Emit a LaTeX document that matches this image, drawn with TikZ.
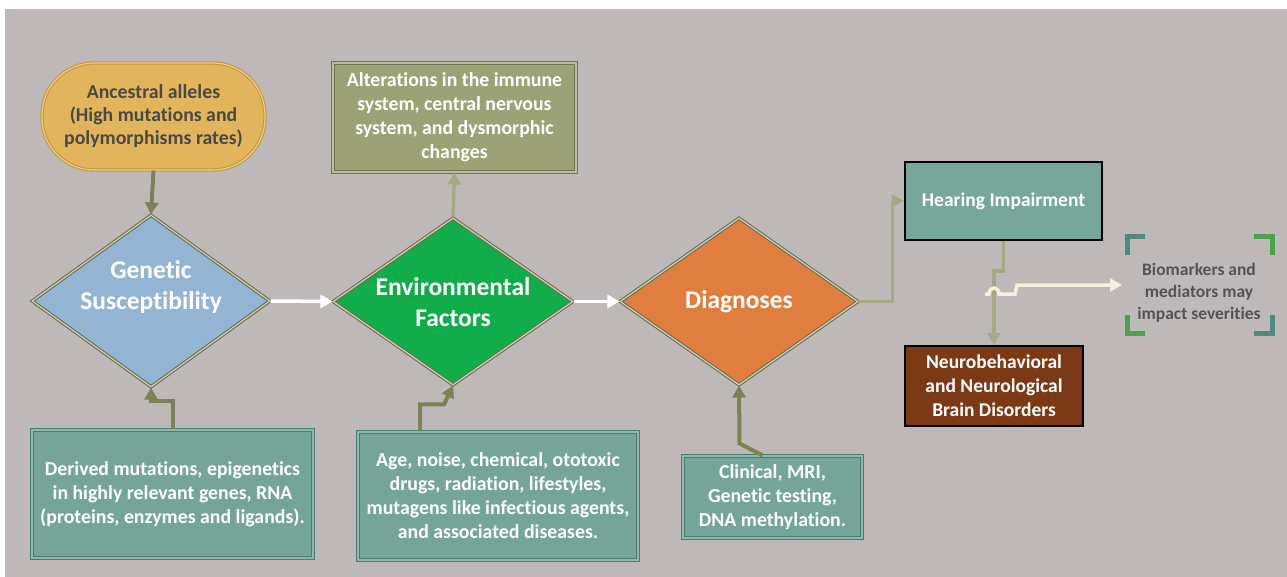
\documentclass[tikz,border=0pt]{standalone}
\usepackage{fontspec}
\setmainfont{Carlito}[Ligatures=NoCommon]
\usetikzlibrary{shapes.geometric,arrows.meta}

\definecolor{bgGrey}{HTML}{BEB9B8}
\definecolor{pillFill}{HTML}{E2B55C}
\definecolor{pillEdge}{HTML}{C39A3F}
\definecolor{pillText}{HTML}{4A4946}
\definecolor{geneFill}{HTML}{94B4D4}
\definecolor{envFill}{HTML}{12AD4B}
\definecolor{diagFill}{HTML}{E07E40}
\definecolor{diamondEdge}{HTML}{6A7250}
\definecolor{diamondLine}{HTML}{D2CCB8}
\definecolor{alterFill}{HTML}{9CA276}
\definecolor{alterEdge}{HTML}{6E7550}
\definecolor{tealFill}{HTML}{75A598}
\definecolor{tealEdge}{HTML}{4B7A6E}
\definecolor{tealLine}{HTML}{8DB8AB}
\definecolor{hearFill}{HTML}{77A79B}
\definecolor{neuroFill}{HTML}{7B3A15}
\definecolor{darkOlive}{HTML}{7C8156}
\definecolor{lightOlive}{HTML}{A4A983}
\definecolor{cream}{HTML}{F5EFDC}
\definecolor{bioText}{HTML}{555353}
\definecolor{cornerTeal}{HTML}{4F8A7F}
\definecolor{cornerGreen}{HTML}{4AA24A}

\begin{document}
\begin{tikzpicture}[x=1pt,y=-1pt,
    decision/.style={diamond, inner sep=0pt, draw=diamondEdge, double=diamondLine,
      line width=1.1pt, double distance=1.2pt},
    dectext/.style={text=white, align=center, inner sep=0pt,
      font=\bfseries\fontsize{25.5}{31}\selectfont},
    tealbox/.style={rectangle, inner sep=0pt, draw=tealEdge, double=tealLine,
      line width=1.1pt, double distance=1.2pt, fill=tealFill, text=white, align=center,
      font=\bfseries\fontsize{19.8}{24}\selectfont},
    outcome/.style={rectangle, inner sep=0pt, draw=black, line width=2.4pt,
      text=white, align=center, font=\bfseries\fontsize{19.5}{24}\selectfont},
    darkarrow/.style={draw=darkOlive, line width=4pt, -{Triangle[length=12pt,width=13pt]}},
    lightarrow/.style={draw=lightOlive, line width=3.5pt, -{Triangle[length=12pt,width=13pt]}},
    whitearrow/.style={draw=white, line width=3.5pt, -{Triangle[length=12pt,width=13pt]}},
    corner/.style={line width=5pt, line cap=butt}]
  \useasboundingbox (0,0) rectangle (1287,577);
  \fill[white] (0,0) rectangle (1287,577);
  \fill[bgGrey] (5,9) rectangle (1287,577);

  % top row
  \node[rectangle, rounded corners=52pt, minimum width=223pt, minimum height=107pt,
    inner sep=0pt, fill=pillFill, draw=pillEdge, double=pillFill!70!white,
    line width=1.1pt, double distance=1.2pt, text=pillText, align=center,
    font=\bfseries\fontsize{19.8}{23}\selectfont] (ancestral) at (153.5,116.5)
    {Ancestral alleles\\(High mutations and\\polymorphisms rates)};
  \node[tealbox, fill=alterFill, draw=alterEdge, double=alterFill!70!white,
    minimum width=243pt, minimum height=109pt] (alter) at (454.5,117.5)
    {Alterations in the immune\\system, central nervous\\system, and dysmorphic\\changes};

  % decisions
  \node[decision, fill=geneFill, minimum width=238pt, minimum height=172pt,
    label={[dectext, yshift=14pt]center:Genetic\\Susceptibility}] (genetic) at (151,301) {};
  \node[decision, fill=envFill, minimum width=240pt, minimum height=167pt,
    label={[dectext, yshift=-1pt]center:Environmental\\Factors}] (env) at (453,301.5) {};
  \node[decision, fill=diagFill, minimum width=238pt, minimum height=167pt,
    label={[dectext]center:Diagnoses}] (diag) at (739,301.5) {};

  % bottom row
  \node[tealbox, minimum width=281pt, minimum height=128pt] (derived) at (172.5,494)
    {Derived mutations, epigenetics\\in highly relevant genes, RNA\\(proteins, enzymes and ligands).};
  \node[tealbox, minimum width=280pt, minimum height=128pt] (age) at (498,496)
    {Age, noise, chemical, ototoxic\\drugs, radiation, lifestyles,\\mutagens like infectious agents,\\and associated diseases.};
  \node[tealbox, minimum width=179pt, minimum height=82pt] (clinical) at (772.5,497)
    {Clinical, MRI,\\Genetic testing,\\DNA methylation.};

  % outcomes
  \node[outcome, fill=hearFill, minimum width=197pt, minimum height=78pt] (hearing) at (1003.5,201)
    {Hearing Impairment};
  \node[outcome, fill=neuroFill, minimum width=178pt, minimum height=80pt] (neuro) at (994,386)
    {Neurobehavioral\\and Neurological\\Brain Disorders};
  \node[text=bioText, align=center, inner sep=2pt,
    font=\bfseries\fontsize{17.5}{22}\selectfont] (bio) at (1199,293)
    {Biomarkers and\\mediators may\\impact severities};

  % connectors
  \draw[darkarrow] (ancestral.south) -- (genetic.north);
  \draw[darkarrow] (derived.north) -- ++(0,-28) -| (genetic.south);
  \draw[darkarrow] ([xshift=-78pt]age.north) -- ++(0,-27) -- ++(24,0) -- (env.south);
  \draw[darkarrow] ([xshift=-10pt]clinical.north) -- ++(-23,-12) -- (diag.south);
  \draw[lightarrow] (env.north) -- (alter.south);
  \draw[whitearrow] (genetic.east) -- (env.west);
  \draw[whitearrow] (env.east) -- (diag.west);
  \draw[lightarrow, line width=3pt] (diag.east) -- ++(34,0) |- (hearing.west);
  \draw[lightarrow] (hearing.south) -- ++(0,30) -| (neuro.north);

  \coordinate (hopstart) at (985,294);
  \draw[draw=cream, line width=3.5pt, -{Triangle[length=12pt,width=13pt]}]
    (hopstart) -- (989,294) .. controls (989,286) and (999,286) .. (999,294)
    -- (1015,294) -- (1017,285) -- (1122,285);

  % corner marks
  \draw[corner, cornerTeal]  (1127,255) -- (1127,237) -- (1145,237);
  \draw[corner, cornerGreen] (1254,237) -- (1272,237) -- (1272,255);
  \draw[corner, cornerGreen] (1127,315) -- (1127,333) -- (1145,333);
  \draw[corner, cornerTeal]  (1272,315) -- (1272,333) -- (1254,333);
\end{tikzpicture}
\end{document}
